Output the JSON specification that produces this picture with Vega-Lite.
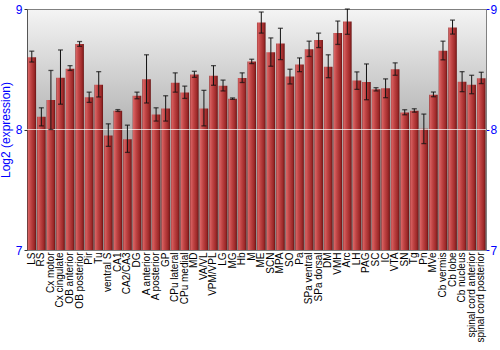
{
  "$schema": "https://vega.github.io/schema/vega-lite/v6.json",
  "width": 459,
  "height": 241,
  "autosize": {"type": "none"},
  "padding": {"left": 27, "top": 9, "right": 14, "bottom": 100},
  "config": {
    "font": "Liberation Sans",
    "view": {
      "fill": {"gradient": "linear", "x1": 0, "y1": 0, "x2": 0, "y2": 1, "stops": [{"offset": 0, "color": "#f4f4f4"}, {"offset": 0.5, "color": "#b2b2b2"}, {"offset": 1, "color": "#8c8c8c"}]},
      "stroke": "#808080"
    }
  },
  "data": {"values": [
    {"region": "LS", "mean": 8.60, "lo": 8.56, "hi": 8.65},
    {"region": "RS", "mean": 8.106, "lo": 8.03, "hi": 8.18},
    {"region": "Cx motor", "mean": 8.245, "lo": 8.0, "hi": 8.49},
    {"region": "Cx cingulate", "mean": 8.43, "lo": 8.21, "hi": 8.66},
    {"region": "OB anterior", "mean": 8.505, "lo": 8.49, "hi": 8.53},
    {"region": "OB posterior", "mean": 8.71, "lo": 8.69, "hi": 8.73},
    {"region": "Pir", "mean": 8.267, "lo": 8.225, "hi": 8.31},
    {"region": "Tu", "mean": 8.372, "lo": 8.27, "hi": 8.48},
    {"region": "ventral S", "mean": 7.95, "lo": 7.86, "hi": 8.047},
    {"region": "CA1", "mean": 8.156, "lo": 8.15, "hi": 8.165},
    {"region": "CA2/CA3", "mean": 7.92, "lo": 7.81, "hi": 8.036},
    {"region": "DG", "mean": 8.28, "lo": 8.255, "hi": 8.31},
    {"region": "A anterior", "mean": 8.417, "lo": 8.22, "hi": 8.62},
    {"region": "A posterior", "mean": 8.125, "lo": 8.07, "hi": 8.18},
    {"region": "GP", "mean": 8.175, "lo": 8.07, "hi": 8.28},
    {"region": "CPu lateral", "mean": 8.389, "lo": 8.31, "hi": 8.47},
    {"region": "CPu medial", "mean": 8.308, "lo": 8.258, "hi": 8.36},
    {"region": "MD", "mean": 8.456, "lo": 8.433, "hi": 8.483},
    {"region": "VA/VL", "mean": 8.175, "lo": 8.03, "hi": 8.325},
    {"region": "VPM/VPL", "mean": 8.447, "lo": 8.367, "hi": 8.53},
    {"region": "LG", "mean": 8.364, "lo": 8.32, "hi": 8.41},
    {"region": "MG", "mean": 8.256, "lo": 8.25, "hi": 8.262},
    {"region": "Hb", "mean": 8.428, "lo": 8.39, "hi": 8.47},
    {"region": "M", "mean": 8.564, "lo": 8.547, "hi": 8.583},
    {"region": "ME", "mean": 8.889, "lo": 8.80, "hi": 8.975},
    {"region": "SCN", "mean": 8.642, "lo": 8.525, "hi": 8.76},
    {"region": "MPA", "mean": 8.714, "lo": 8.58, "hi": 8.84},
    {"region": "SO", "mean": 8.439, "lo": 8.378, "hi": 8.5},
    {"region": "Pa", "mean": 8.539, "lo": 8.48, "hi": 8.594},
    {"region": "SPa ventral", "mean": 8.667, "lo": 8.606, "hi": 8.733},
    {"region": "SPa dorsal", "mean": 8.742, "lo": 8.68, "hi": 8.80},
    {"region": "DM", "mean": 8.52, "lo": 8.43, "hi": 8.62},
    {"region": "VMH", "mean": 8.80, "lo": 8.706, "hi": 8.90},
    {"region": "Arc", "mean": 8.897, "lo": 8.79, "hi": 9.0},
    {"region": "LH", "mean": 8.406, "lo": 8.333, "hi": 8.478},
    {"region": "PAG", "mean": 8.394, "lo": 8.247, "hi": 8.544},
    {"region": "SC", "mean": 8.333, "lo": 8.32, "hi": 8.347},
    {"region": "IC", "mean": 8.342, "lo": 8.264, "hi": 8.42},
    {"region": "VTA", "mean": 8.5, "lo": 8.45, "hi": 8.553},
    {"region": "SN", "mean": 8.142, "lo": 8.122, "hi": 8.164},
    {"region": "Tg", "mean": 8.156, "lo": 8.144, "hi": 8.172},
    {"region": "Pn", "mean": 8.006, "lo": 7.883, "hi": 8.128},
    {"region": "MVe", "mean": 8.289, "lo": 8.272, "hi": 8.311},
    {"region": "Cb vermis", "mean": 8.653, "lo": 8.578, "hi": 8.733},
    {"region": "Cb lobe", "mean": 8.847, "lo": 8.792, "hi": 8.908},
    {"region": "Cb nucleus", "mean": 8.397, "lo": 8.314, "hi": 8.48},
    {"region": "spinal cord anterior", "mean": 8.372, "lo": 8.297, "hi": 8.45},
    {"region": "spinal cord posterior", "mean": 8.425, "lo": 8.381, "hi": 8.475}
  ]},
  "layer": [
    {
      "mark": {"type": "bar", "clip": true, "color": {"gradient": "linear", "x1": 0, "y1": 0, "x2": 1, "y2": 0, "stops": [{"offset": 0, "color": "#8a2a2a"}, {"offset": 0.1, "color": "#d86262"}, {"offset": 0.4, "color": "#c04444"}, {"offset": 0.8, "color": "#9c2828"}, {"offset": 1, "color": "#661414"}]}},
      "encoding": {
        "x": {"field": "region", "type": "nominal", "sort": null, "scale": {"paddingInner": 0.1, "paddingOuter": 0.05},
          "axis": {"title": null, "labelAngle": -90, "labelFontSize": 10, "labelColor": "black", "ticks": false, "domainColor": "#808080", "labelPadding": 2, "labelOverlap": false, "labelLimit": 0}},
        "y": {"field": "mean", "type": "quantitative", "scale": {"domain": [7, 9], "zero": false, "nice": false},
          "axis": {"orient": "left", "values": [7, 8, 9], "format": ".0f", "labelOverlap": false, "grid": false, "title": "Log2 (expression)", "titleColor": "blue", "titleFontSize": 12, "titleFontWeight": "normal", "titlePadding": 3, "labelColor": "blue", "labelFontSize": 12, "labelPadding": 2, "tickSize": 3, "tickColor": "#333", "domainColor": "#555"}},
        "y2": {"datum": 7}
      }
    },
    {
      "data": {"values": [{"v": 8}]},
      "mark": {"type": "rule", "color": "white", "opacity": 0.7, "strokeWidth": 1},
      "encoding": {"y": {"field": "v", "type": "quantitative", "axis": null}}
    },
    {
      "mark": {"type": "rule", "color": "#111", "strokeWidth": 1},
      "encoding": {
        "x": {"field": "region", "type": "nominal", "sort": null},
        "y": {"field": "lo", "type": "quantitative",
          "axis": {"orient": "right", "values": [7, 8, 9], "format": ".0f", "labelOverlap": false, "grid": false, "title": null, "labelColor": "blue", "labelFontSize": 12, "labelPadding": 1, "tickSize": 3, "tickColor": "blue", "domainColor": "#808080"}},
        "y2": {"field": "hi"}
      }
    },
    {
      "mark": {"type": "tick", "color": "#111", "size": 5, "thickness": 1.3},
      "encoding": {
        "x": {"field": "region", "type": "nominal", "sort": null},
        "y": {"field": "lo", "type": "quantitative", "axis": null}
      }
    },
    {
      "mark": {"type": "tick", "color": "#111", "size": 5, "thickness": 1.3},
      "encoding": {
        "x": {"field": "region", "type": "nominal", "sort": null},
        "y": {"field": "hi", "type": "quantitative", "axis": null}
      }
    }
  ],
  "resolve": {"axis": {"y": "independent"}}
}
